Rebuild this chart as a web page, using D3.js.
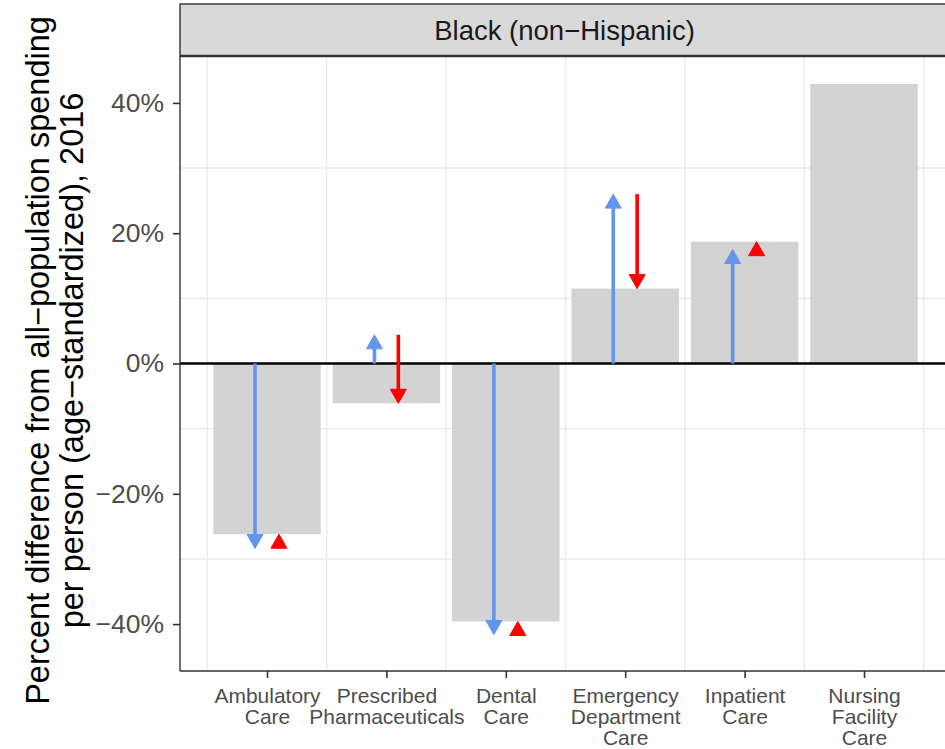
<!DOCTYPE html>
<html>
<head>
<meta charset="utf-8">
<script src="https://cdn.jsdelivr.net/npm/d3@7"></script>
<style>
  html, body { margin: 0; padding: 0; background: #fff; }
  svg { display: block; font-family: "Liberation Sans", Arial, sans-serif; }
</style>
</head>
<body>
<svg id="chart" width="945" height="749"></svg>
<script>
// Service categories, one label line per array entry
const categories = [
  ["Ambulatory", "Care"],
  ["Prescribed", "Pharmaceuticals"],
  ["Dental", "Care"],
  ["Emergency", "Department", "Care"],
  ["Inpatient", "Care"],
  ["Nursing", "Facility", "Care"]
];

// Total percent difference in spending per person (bars)
const totalDiff = [-26.2, -6.1, -39.6, 11.5, 18.7, 42.9];

// Intermediate step: blue arrow runs 0 -> stepValue, red arrow stepValue -> total
const stepValue = [-28.4, 4.4, -41.6, 26.0, 17.5, null];

const yTicks = [-40, -20, 0, 20, 40];
const yMinor = [-30, -10, 10, 30];
const facetLabel = "Black (non\u2212Hispanic)";
const yTitle = [
  "Percent difference from all\u2212population spending",
  "per person (age\u2212standardized), 2016"
];

const svg = d3.select("#chart");
const W = 945, H = 749;
const panel = { left: 180, right: 951, top: 56, bottom: 671 };
const strip = { top: 4, bottom: 56 };

const idx = d3.range(categories.length);
const x = d3.scalePoint()
  .domain(idx)
  .range([panel.left, panel.right])
  .padding(0.7285);
const step = x.step();

const y = d3.scaleLinear()
  .domain([-47.2, 47.2])
  .range([panel.bottom, panel.top]);

svg.append("rect").attr("width", W).attr("height", H).attr("fill", "#fff");

const g = svg.append("g");

// grid: horizontal at minor breaks, vertical between categories
g.selectAll(".hgrid").data(yMinor).join("line")
  .attr("x1", panel.left).attr("x2", panel.right)
  .attr("y1", d => y(d)).attr("y2", d => y(d))
  .attr("stroke", "#EBEBEB").attr("stroke-width", 1.4);

const vGrid = d3.range(categories.length + 1).map(i => x(0) + (i - 0.5) * step);
g.selectAll(".vgrid").data(vGrid).join("line")
  .attr("x1", d => d).attr("x2", d => d)
  .attr("y1", panel.top).attr("y2", panel.bottom)
  .attr("stroke", "#EBEBEB").attr("stroke-width", 1.4);

// bars
const barW = step * 0.9;
g.selectAll(".bar").data(idx).join("rect")
  .attr("x", i => x(i) - barW / 2)
  .attr("width", barW)
  .attr("y", i => y(Math.max(0, totalDiff[i])))
  .attr("height", i => Math.abs(y(totalDiff[i]) - y(0)))
  .attr("fill", "#D3D3D3");

// zero line
g.append("line")
  .attr("x1", panel.left).attr("x2", panel.right)
  .attr("y1", y(0)).attr("y2", y(0))
  .attr("stroke", "#000").attr("stroke-width", 2.6);

// arrows
const headLen = 14, headHalf = 8, lineW = 3.6;
function arrow(cx, v0, v1, color) {
  const y0 = y(v0), y1 = y(v1);
  const dir = y1 > y0 ? 1 : -1;
  const base = y1 - dir * headLen;
  // shaft stops at the arrowhead base when the arrow is long enough
  if (Math.abs(y1 - y0) > headLen) {
    g.append("line")
      .attr("x1", cx).attr("x2", cx)
      .attr("y1", y0).attr("y2", base + dir * 1)
      .attr("stroke", color).attr("stroke-width", lineW);
  }
  g.append("path")
    .attr("d", `M${cx},${y1} L${cx - headHalf},${base} L${cx + headHalf},${base} Z`)
    .attr("fill", color).attr("stroke", color)
    .attr("stroke-width", 1).attr("stroke-linejoin", "round");
}
idx.forEach(i => {
  if (stepValue[i] == null) return;
  arrow(x(i) - 0.1 * step, 0, stepValue[i], "#6495ED");
  arrow(x(i) + 0.1 * step, stepValue[i], totalDiff[i], "#FF0000");
});

// panel border (left + bottom axis lines)
g.append("line").attr("x1", panel.left).attr("x2", panel.left)
  .attr("y1", panel.top).attr("y2", panel.bottom)
  .attr("stroke", "#333").attr("stroke-width", 1.4);
g.append("line").attr("x1", panel.left).attr("x2", panel.right)
  .attr("y1", panel.bottom).attr("y2", panel.bottom)
  .attr("stroke", "#333").attr("stroke-width", 1.4);

// facet strip
svg.append("rect")
  .attr("x", panel.left).attr("y", strip.top)
  .attr("width", panel.right - panel.left).attr("height", strip.bottom - strip.top)
  .attr("fill", "#D9D9D9").attr("stroke", "#333").attr("stroke-width", 1.4);
svg.append("line").attr("x1", panel.left).attr("x2", panel.right)
  .attr("y1", strip.bottom).attr("y2", strip.bottom)
  .attr("stroke", "#333").attr("stroke-width", 2.4);
svg.append("text")
  .attr("x", (panel.left + panel.right) / 2 - 1)
  .attr("y", (strip.top + strip.bottom) / 2)
  .attr("dy", "0.36em")
  .attr("text-anchor", "middle")
  .attr("font-size", 27.5)
  .attr("fill", "#1A1A1A")
  .text(facetLabel);

// y axis
const yAxis = d3.axisLeft(y).tickValues(yTicks).tickSize(7).tickPadding(9)
  .tickFormat(d => (d < 0 ? "\u2212" : "") + Math.abs(d) + "%");
const ya = svg.append("g").attr("transform", `translate(${panel.left},0)`).call(yAxis);
ya.select(".domain").remove();
ya.selectAll(".tick line").attr("stroke", "#333").attr("stroke-width", 1.6);
ya.selectAll(".tick text").attr("fill", "#4D4D4D").attr("font-size", 26.5)
  .attr("font-family", "Liberation Sans, Arial, sans-serif");

// x axis
const xAxis = d3.axisBottom(x).tickSize(7).tickFormat("");
const xa = svg.append("g").attr("transform", `translate(0,${panel.bottom})`).call(xAxis);
xa.select(".domain").remove();
xa.selectAll(".tick line").attr("stroke", "#333").attr("stroke-width", 1.6);
xa.selectAll(".tick").append("text")
  .attr("text-anchor", "middle")
  .attr("fill", "#4D4D4D")
  .attr("font-size", 21)
  .attr("font-family", "Liberation Sans, Arial, sans-serif")
  .selectAll("tspan")
  .data(i => categories[i])
  .join("tspan")
  .attr("x", 0)
  .attr("y", (d, k) => 32 + k * 21)
  .text(d => d);

// y title
const yt = svg.append("text")
  .attr("transform", `translate(0,${(panel.top + panel.bottom) / 2 - 3}) rotate(-90)`)
  .attr("text-anchor", "middle")
  .attr("font-size", 32.5)
  .attr("fill", "#000");
yt.selectAll("tspan").data(yTitle).join("tspan")
  .attr("x", 0)
  .attr("y", (d, k) => 49 + k * 34)
  .text(d => d);
</script>
</body>
</html>
